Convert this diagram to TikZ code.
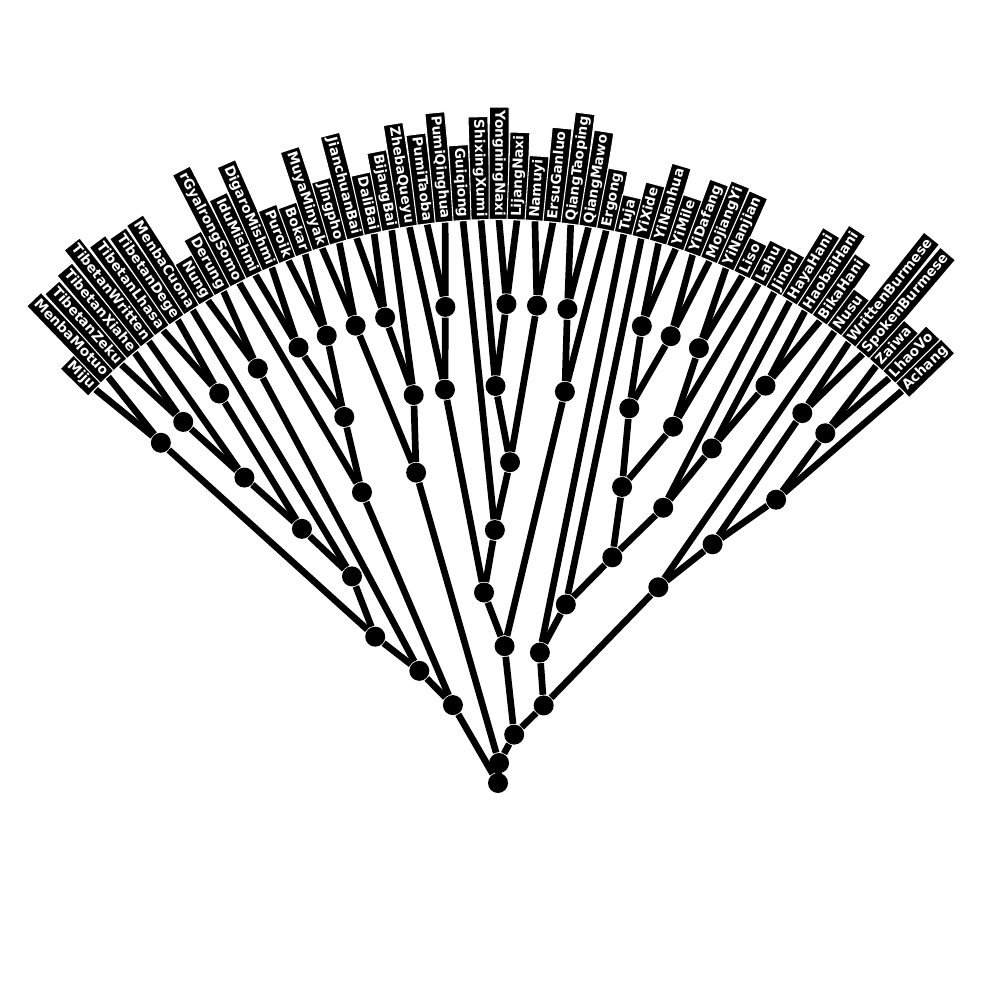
\documentclass[tikz,border=0pt]{standalone}
\usepackage{fontspec}
\newfontfamily\taxonfont{DejaVu Sans}
\newcommand\taxa{Miju, MenbaMotuo, TibetanZeku, TibetanXiahe, TibetanWritten,
  TibetanLhasa, TibetanDege, MenbaCuona, Nung, Derung, rGyalrongSomo, IduMishmi,
  DigaroMishmi, Puroik, Bokar, MuyaMinyak, Jingpho, JianchuanBai, DaliBai,
  BijangBai, ZhebaQueyu, PumiTaoba, PumiQinghua, Guiqiong, ShixingXumi,
  YongningNaxi, LijangNaxi, Namuyi, ErsuGanluo, QiangTaoping, QiangMawo, Ergong,
  Tuja, YiXide, YiNanhua, YiMile, YiDafang, MojiangYi, YiNanjian, Liso, Lahu,
  Jinou, HayaHani, HaobaiHani, BikaHani, Nusu, WrittenBurmese, SpokenBurmese,
  Zaiwa, LhaoVo, Achang}
\begin{document}
\begin{tikzpicture}[
    branch/.style={line width=1.9pt, black},
    dot/.style={circle, fill=black, inner sep=0pt, minimum size=2mm},
    taxon/.style={fill=black, draw=white, line width=0.3pt, text=white,
      inner sep=0.9pt, text height=3.0pt, text depth=0.85pt,
      font=\taxonfont\bfseries\fontsize{3.9}{4.5}\selectfont},
  ]
    \useasboundingbox (-4.98,-2.17) rectangle (5.02,7.83);
    % leaf tips on the outer arc
    \foreach \tx [count=\i] in \taxa
      \coordinate (\tx) at ({135.65-1.83*(\i-1)}:5.63);
    % internal nodes
    \node[dot] (root) at (0,0) {};
    \foreach \nm/\ang/\rad in {
        cMiju/134.74/4.79, cZeku/131.08/4.79, cTibW/129.70/3.97,
        cLhasa/125.59/4.79, cTib/127.65/3.21, cBodish/125.25/2.53,
        cBodM/130.00/1.91, cNung/120.10/4.79, cWest/125.05/1.37,
        cMishmi/114.61/4.79, cTani/110.95/4.79, cNE/112.78/3.97,
        cRgy/115.07/3.21, cLeft/120.06/0.90,
        cJing/107.29/4.79, cBaiA/103.63/4.79, cBai/102.26/3.97,
        cBaiJ/104.78/3.21,
        cPumi/96.31/4.79, cPumiZ/97.68/3.97, cNaxi/88.99/4.79,
        cNaxiX/90.36/3.97, cErsu/85.33/4.79, cNaX/87.85/3.21,
        cGui/90.71/2.53, cQiA/94.20/1.91, cQiang/81.67/4.79,
        cQiangE/80.30/3.97, cQiB/87.25/1.37,
        cYiA/72.52/4.79, cYiB/68.86/4.79, cYi/70.69/3.97,
        cLiso/65.20/4.79, cLahu/63.83/3.97, cLoloA/67.26/3.21,
        cHaniA/56.05/4.79, cHani/57.42/3.97, cJinou/59.02/3.21,
        cLolo/63.14/2.53, cXide/69.20/1.91, cTuja/72.20/1.37,
        cBurm/50.56/4.79, cZaiwa/46.90/4.79, cAchang/45.53/3.97,
        cBurmish/48.05/3.21, cNusu/50.68/2.53,
        cLB/59.50/0.90, cEast/71.50/0.51, cCore/87.00/0.20}
      \node[dot] (\nm) at (\ang:\rad) {};
    % branches
    \foreach \a/\b in {
        cMiju/Miju, cMiju/MenbaMotuo, cZeku/TibetanZeku, cZeku/TibetanXiahe,
        cTibW/cZeku, cTibW/TibetanWritten, cLhasa/TibetanLhasa,
        cLhasa/TibetanDege, cTib/cTibW, cTib/cLhasa, cBodish/cTib,
        cBodish/MenbaCuona, cBodM/cMiju, cBodM/cBodish, cNung/Nung,
        cNung/Derung, cWest/cBodM, cWest/cNung, cMishmi/IduMishmi,
        cMishmi/DigaroMishmi, cTani/Puroik, cTani/Bokar, cNE/cMishmi,
        cNE/cTani, cRgy/cNE, cRgy/rGyalrongSomo, cLeft/cWest, cLeft/cRgy,
        cJing/MuyaMinyak, cJing/Jingpho, cBaiA/JianchuanBai, cBaiA/DaliBai,
        cBai/cBaiA, cBai/BijangBai, cBaiJ/cJing, cBaiJ/cBai,
        cPumi/PumiTaoba, cPumi/PumiQinghua, cPumiZ/cPumi, cPumiZ/ZhebaQueyu,
        cNaxi/YongningNaxi, cNaxi/LijangNaxi, cNaxiX/cNaxi,
        cNaxiX/ShixingXumi, cErsu/Namuyi, cErsu/ErsuGanluo, cNaX/cNaxiX,
        cNaX/cErsu, cGui/cNaX, cGui/Guiqiong, cQiA/cGui, cQiA/cPumiZ,
        cQiang/QiangTaoping, cQiang/QiangMawo, cQiangE/cQiang,
        cQiangE/Ergong, cQiB/cQiA, cQiB/cQiangE,
        cYiA/YiNanhua, cYiA/YiMile, cYiB/YiDafang, cYiB/MojiangYi,
        cYi/cYiA, cYi/cYiB, cLiso/YiNanjian, cLiso/Liso, cLahu/cLiso,
        cLahu/Lahu, cLoloA/cYi, cLoloA/cLahu, cHaniA/HaobaiHani,
        cHaniA/BikaHani, cHani/cHaniA, cHani/HayaHani, cJinou/cHani,
        cJinou/Jinou, cLolo/cLoloA, cLolo/cJinou, cXide/cLolo,
        cXide/YiXide, cTuja/cXide, cTuja/Tuja,
        cBurm/WrittenBurmese, cBurm/SpokenBurmese, cZaiwa/Zaiwa,
        cZaiwa/LhaoVo, cAchang/cZaiwa, cAchang/Achang, cBurmish/cBurm,
        cBurmish/cAchang, cNusu/cBurmish, cNusu/Nusu,
        cLB/cTuja, cLB/cNusu, cEast/cQiB, cEast/cLB,
        cCore/cEast, cCore/cBaiJ, root/cCore, root/cLeft}
      \draw[branch] (\a) -- (\b);
    % taxon labels, turned to read outwards on the right half
    \foreach \tx [count=\i] in \taxa {
      \pgfmathsetmacro\ang{135.65-1.83*(\i-1)}
      \ifnum\i<27
        \pgfmathsetmacro\rot{\ang+180}\def\anc{east}
      \else
        \let\rot\ang\def\anc{west}
      \fi
      \node[taxon, rotate=\rot, anchor=\anc] (box\i) at (\tx) {\tx};
    }
\end{tikzpicture}
\end{document}
